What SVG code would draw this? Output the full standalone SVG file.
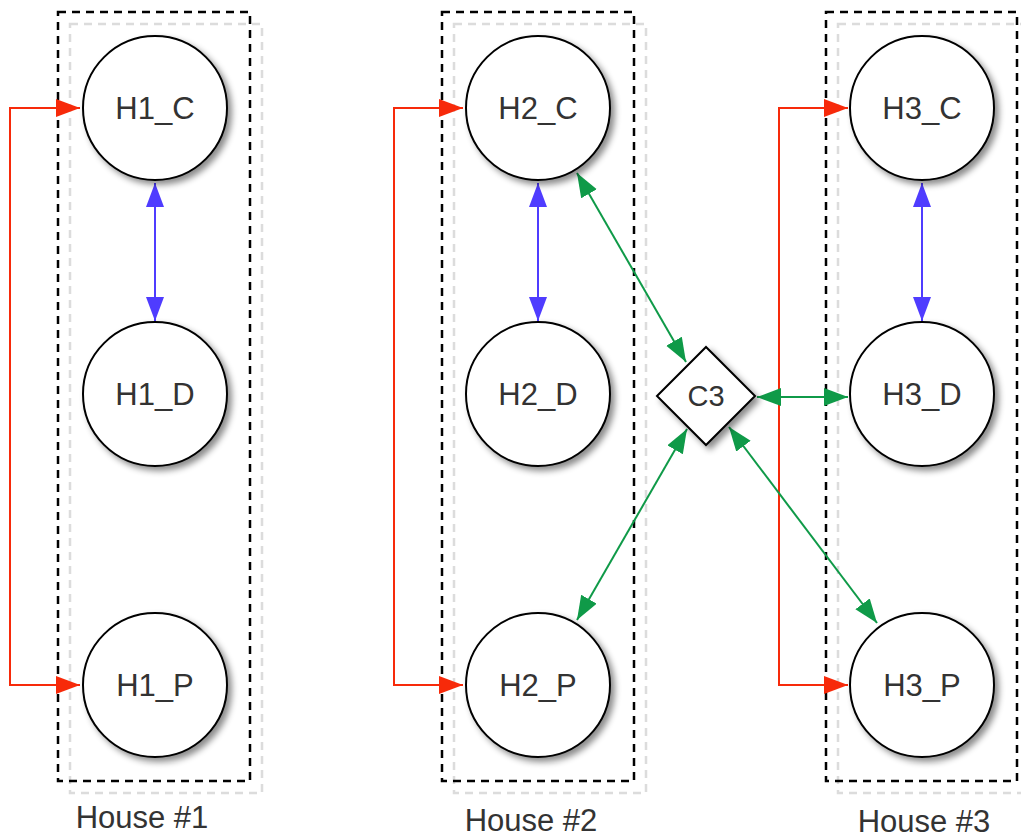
<svg xmlns="http://www.w3.org/2000/svg" width="1021" height="839" viewBox="0 0 1021 839">
  <defs>
    <filter id="shadow" x="-20%" y="-20%" width="150%" height="150%">
      <feDropShadow dx="4" dy="4" stdDeviation="3" flood-color="#000" flood-opacity="0.45"/>
    </filter>
    <marker id="arrRed" markerUnits="userSpaceOnUse" markerWidth="26" markerHeight="20" refX="24" refY="9" orient="auto-start-reverse">
      <path d="M0,0 L24,9 L0,18 Z" fill="#f72a0a"/>
    </marker>
    <marker id="arrBlue" markerUnits="userSpaceOnUse" markerWidth="26" markerHeight="20" refX="24" refY="9" orient="auto-start-reverse">
      <path d="M0,0 L24,9 L0,18 Z" fill="#4f3cff"/>
    </marker>
    <marker id="arrGreen" markerUnits="userSpaceOnUse" markerWidth="26" markerHeight="20" refX="24" refY="9" orient="auto-start-reverse">
      <path d="M0,0 L24,9 L0,18 Z" fill="#0f9a48"/>
    </marker>
  </defs>
  <style>
    .grpShadow { fill: none; stroke: #dcdcdc; stroke-width: 2.5; stroke-dasharray: 8 6; }
    .grp { fill: none; stroke: #000; stroke-width: 2.5; stroke-dasharray: 8 6; }
    .node { fill: #fff; stroke: #000; stroke-width: 2; filter: url(#shadow); }
    .lbl { font-family: "Liberation Sans", Arial, Helvetica, sans-serif; font-size: 31px; fill: #333; text-anchor: middle; }
    .red { fill: none; stroke: #f72a0a; stroke-width: 2; marker-start: url(#arrRed); marker-end: url(#arrRed); }
    .blue { fill: none; stroke: #4f3cff; stroke-width: 2; marker-start: url(#arrBlue); marker-end: url(#arrBlue); }
    .green { fill: none; stroke: #0f9a48; stroke-width: 2; marker-start: url(#arrGreen); marker-end: url(#arrGreen); }
  </style>
  <rect width="1021" height="839" fill="#fff"/>

  <!-- house groups -->
  <g id="house1">
    <rect class="grpShadow" x="70" y="24" width="192" height="769"/>
    <rect class="grp" x="58" y="12" width="192" height="769"/>
    <text class="lbl" x="142" y="828">House #1</text>
  </g>
  <g id="house2">
    <rect class="grpShadow" x="454" y="24" width="192" height="769"/>
    <rect class="grp" x="442" y="12" width="192" height="769"/>
    <text class="lbl" x="531" y="831">House #2</text>
  </g>
  <g id="house3">
    <rect class="grpShadow" x="838" y="24" width="192" height="769"/>
    <rect class="grp" x="826" y="12" width="191" height="769"/>
    <text class="lbl" x="924" y="832">House #3</text>
  </g>

  <!-- connectors -->
  <g id="connectors">
    <polyline class="red" points="80,108 10,108 10,685 80,685"/>
    <polyline class="red" points="463,108 394,108 394,685 463,685"/>
    <polyline class="red" points="848,108 779,108 779,685 848,685"/>
    <line class="blue" x1="155" y1="183" x2="155" y2="321"/>
    <line class="blue" x1="538" y1="183" x2="538" y2="321"/>
    <line class="blue" x1="922" y1="183" x2="922" y2="321"/>
    <line class="green" x1="577" y1="173" x2="686" y2="362"/>
    <line class="green" x1="757" y1="397" x2="848" y2="397"/>
    <line class="green" x1="687" y1="429" x2="577" y2="620"/>
    <line class="green" x1="729" y1="427" x2="877" y2="623"/>
  </g>

  <!-- nodes -->
  <g id="H1_C"><circle class="node" cx="155" cy="108" r="72"/><text class="lbl" x="155" y="119">H1_C</text></g>
  <g id="H1_D"><circle class="node" cx="155" cy="394" r="72"/><text class="lbl" x="155" y="405">H1_D</text></g>
  <g id="H1_P"><circle class="node" cx="155" cy="685" r="72"/><text class="lbl" x="155" y="696">H1_P</text></g>

  <g id="H2_C"><circle class="node" cx="538" cy="108" r="72"/><text class="lbl" x="538" y="119">H2_C</text></g>
  <g id="H2_D"><circle class="node" cx="538" cy="394" r="72"/><text class="lbl" x="538" y="405">H2_D</text></g>
  <g id="H2_P"><circle class="node" cx="538" cy="685" r="72"/><text class="lbl" x="538" y="696">H2_P</text></g>

  <g id="H3_C"><circle class="node" cx="922" cy="108" r="72"/><text class="lbl" x="922" y="119">H3_C</text></g>
  <g id="H3_D"><circle class="node" cx="922" cy="394" r="72"/><text class="lbl" x="922" y="405">H3_D</text></g>
  <g id="H3_P"><circle class="node" cx="922" cy="685" r="72"/><text class="lbl" x="922" y="696">H3_P</text></g>

  <g id="C3">
    <polygon class="node" points="657,396 706,347 755,396 706,445"/>
    <text class="lbl" x="706" y="406" style="font-size:29px">C3</text>
  </g>
</svg>
